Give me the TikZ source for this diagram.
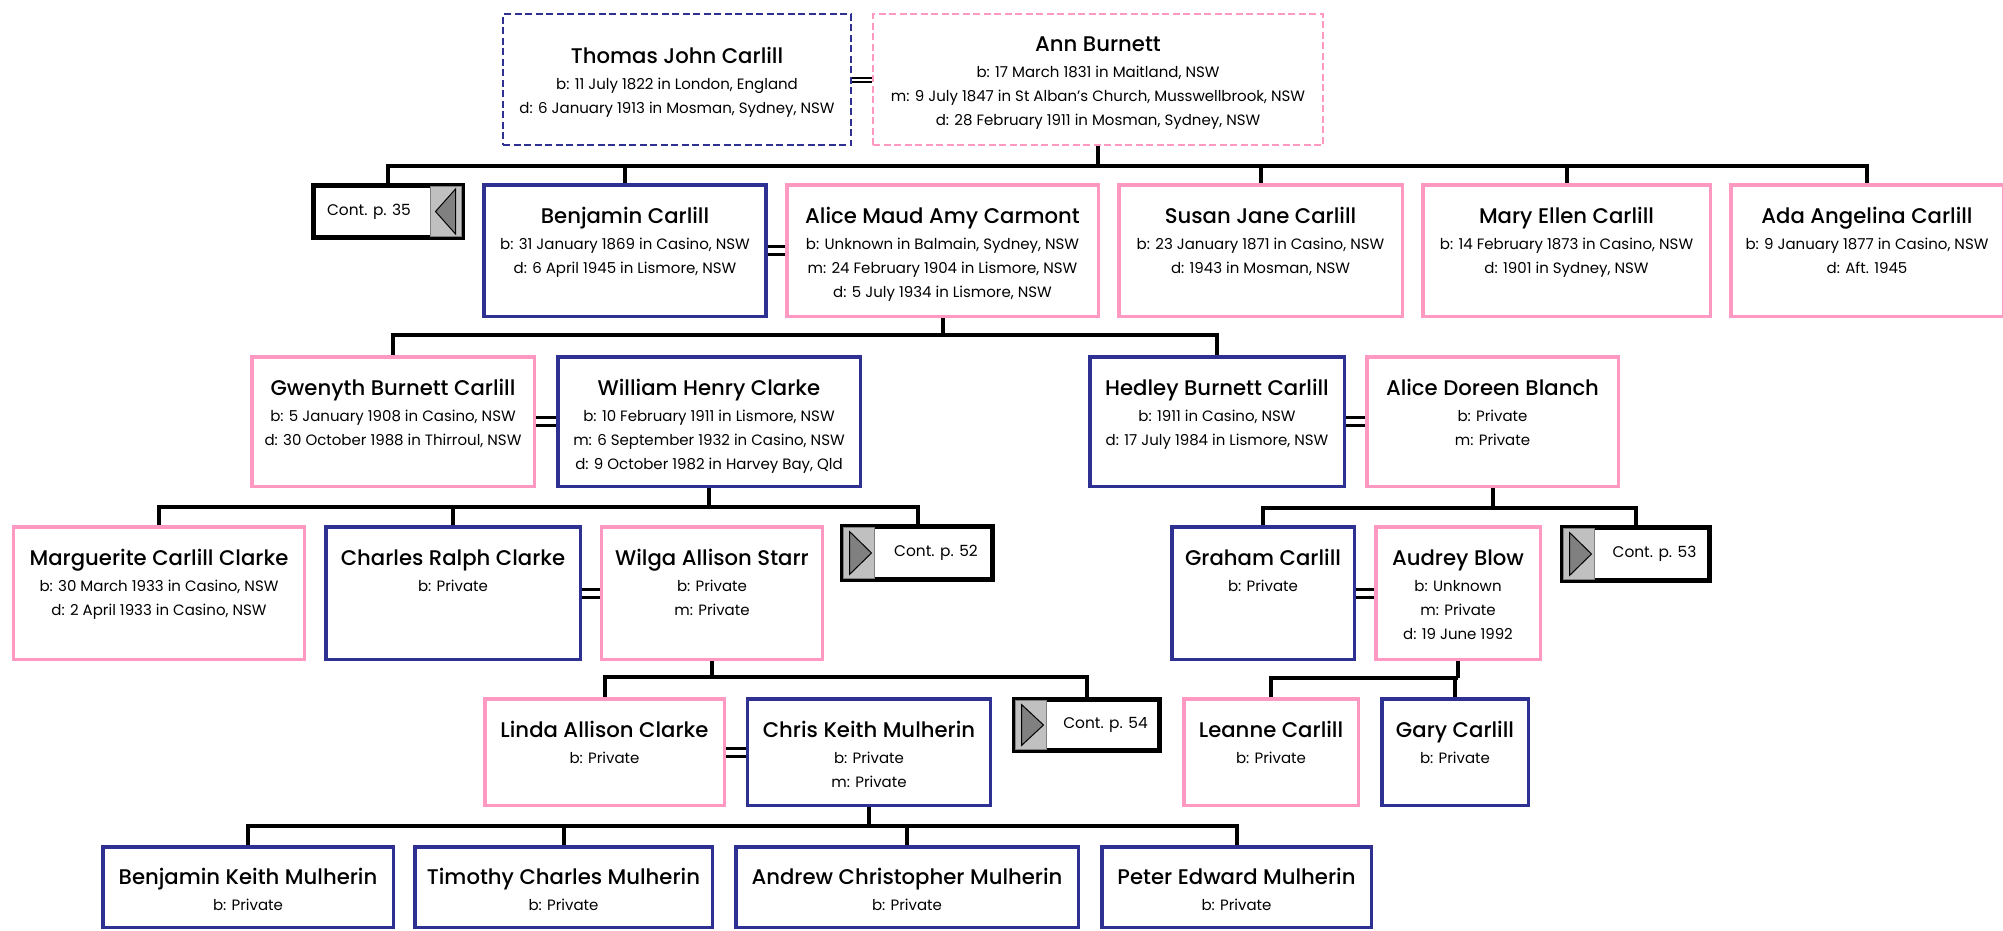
\documentclass[tikz,border=0pt]{standalone}
\usepackage{fontspec}
\setmainfont{Poppins}
\newfontfamily\namefam{Poppins}[UprightFont=* Medium]
\usetikzlibrary{calc}

\definecolor{navyb}{RGB}{46,49,146}
\definecolor{pinkb}{RGB}{255,153,194}
\definecolor{contgray}{RGB}{192,192,192}
\definecolor{arrowgray}{RGB}{128,128,128}

\newlength\pxu
\setlength\pxu{0.5pt}
\newcommand{\namefont}{\namefam\fontsize{10.6}{12}\selectfont}
\newcommand{\detfont}{\fontsize{7.5}{12}\selectfont}
\newcommand{\contfont}{\fontsize{7.7}{10}\selectfont}
% box of fixed size, text hung from the top
\newcommand{\pbox}[5][19.5pt]{\parbox[c][#3\pxu][t]{#2\pxu}{\detfont\centering\rule{0pt}{#1}{\namefont #4}\\[1pt]#5}}

\begin{document}
\begin{tikzpicture}[x=0.5pt,y=-0.5pt]
    \useasboundingbox (0,0) rectangle (2003,931);

    % generation 0
    \begin{scope}[every node/.style={rectangle,line width=1pt,dash pattern=on 3.5pt off 1.75pt,inner sep=0pt,fill=white}]
        \node (thomas) [draw=navyb] at (677,80) {\pbox[24.5pt]{348}{131}{Thomas John Carlill}{b: 11 July 1822 in London, England\\ d: 6 January 1913 in Mosman, Sydney, NSW}};
        \node (ann) [draw=pinkb] at (1098,80) {\pbox[18.5pt]{450}{131}{Ann Burnett}{b: 17 March 1831 in Maitland, NSW\\ m: 9 July 1847 in St Alban's Church, Musswellbrook, NSW\\ d: 28 February 1911 in Mosman, Sydney, NSW}};
    \end{scope}

    \begin{scope}[every node/.style={rectangle,line width=1.75pt,inner sep=0pt,fill=white}]
        % generation 1
        \node (ben) [draw=navyb] at (625,250.5) {\pbox{282}{131.5}{Benjamin Carlill}{b: 31 January 1869 in Casino, NSW\\ d: 6 April 1945 in Lismore, NSW}};
        \node (alice) [draw=pinkb] at (942.5,250.5) {\pbox{311.5}{131.5}{Alice Maud Amy Carmont}{b: Unknown in Balmain, Sydney, NSW\\ m: 24 February 1904 in Lismore, NSW\\ d: 5 July 1934 in Lismore, NSW}};
        \node (susan) [draw=pinkb] at (1260.5,250.5) {\pbox{283.5}{131.5}{Susan Jane Carlill}{b: 23 January 1871 in Casino, NSW\\ d: 1943 in Mosman, NSW}};
        \node (mary) [draw=pinkb] at (1566.5,250.5) {\pbox{287.5}{131.5}{Mary Ellen Carlill}{b: 14 February 1873 in Casino, NSW\\ d: 1901 in Sydney, NSW}};
        \node (ada) [draw=pinkb] at (1867,250.5) {\pbox{272.5}{131.5}{Ada Angelina Carlill}{b: 9 January 1877 in Casino, NSW\\ d: Aft. 1945}};
        % generation 2
        \node (gwen) [draw=pinkb] at (393,421.5) {\pbox{282.5}{129.5}{Gwenyth Burnett Carlill}{b: 5 January 1908 in Casino, NSW\\ d: 30 October 1988 in Thirroul, NSW}};
        \node (william) [draw=navyb] at (709,421.5) {\pbox{302.5}{129.5}{William Henry Clarke}{b: 10 February 1911 in Lismore, NSW\\ m: 6 September 1932 in Casino, NSW\\ d: 9 October 1982 in Harvey Bay, Qld}};
        \node (hedley) [draw=navyb] at (1217,421.5) {\pbox{254.5}{129.5}{Hedley Burnett Carlill}{b: 1911 in Casino, NSW\\ d: 17 July 1984 in Lismore, NSW}};
        \node (doreen) [draw=pinkb] at (1492.5,421.5) {\pbox{251.5}{129.5}{Alice Doreen Blanch}{b: Private\\ m: Private}};
        % generation 3
        \node (marg) [draw=pinkb] at (159,593) {\pbox{291}{132.5}{Marguerite Carlill Clarke}{b: 30 March 1933 in Casino, NSW\\ d: 2 April 1933 in Casino, NSW}};
        \node (charles) [draw=navyb] at (453,593) {\pbox{254.5}{132.5}{Charles Ralph Clarke}{b: Private}};
        \node (wilga) [draw=pinkb] at (712,593) {\pbox{221}{132.5}{Wilga Allison Starr}{b: Private\\ m: Private}};
        \node (graham) [draw=navyb] at (1263,593) {\pbox{182.5}{132.5}{Graham Carlill}{b: Private}};
        \node (audrey) [draw=pinkb] at (1458,593) {\pbox{164.5}{132.5}{Audrey Blow}{b: Unknown\\ m: Private\\ d: 19 June 1992}};
        % generation 4
        \node (linda) [draw=pinkb] at (604.5,752) {\pbox{239.5}{106.5}{Linda Allison Clarke}{b: Private}};
        \node (chris) [draw=navyb] at (869,752) {\pbox{243}{106.5}{Chris Keith Mulherin}{b: Private\\ m: Private}};
        \node (leanne) [draw=pinkb] at (1271,752) {\pbox{174.5}{106.5}{Leanne Carlill}{b: Private}};
        \node (gary) [draw=navyb] at (1455,752) {\pbox{146.5}{106.5}{Gary Carlill}{b: Private}};
        % generation 5
        \node (benk) [draw=navyb] at (248,887) {\pbox[18.75pt]{290.5}{80.5}{Benjamin Keith Mulherin}{b: Private}};
        \node (timothy) [draw=navyb] at (563.5,887) {\pbox[18.75pt]{297.5}{80.5}{Timothy Charles Mulherin}{b: Private}};
        \node (andrew) [draw=navyb] at (907,887) {\pbox[18.75pt]{342.5}{80.5}{Andrew Christopher Mulherin}{b: Private}};
        \node (peter) [draw=navyb] at (1236.5,887) {\pbox[18.75pt]{269.5}{80.5}{Peter Edward Mulherin}{b: Private}};
    \end{scope}

    % continuation boxes
    \begin{scope}[every node/.style={rectangle,draw=black,line width=2.5pt,inner sep=0pt,fill=white,font=\contfont}]
        \node (c35) [minimum width=74.5pt, minimum height=26pt] at (388,211.5) {Cont. p. 35\hspace*{19pt}};
        \node (c52) [minimum width=75pt, minimum height=26.5pt] at (917.5,553) {\hspace*{18.5pt}Cont. p. 52};
        \node (c53) [minimum width=73.5pt, minimum height=26.5pt] at (1636,554) {\hspace*{18.5pt}Cont. p. 53};
        \node (c54) [minimum width=72.5pt, minimum height=25.5pt] at (1087,725) {\hspace*{18.5pt}Cont. p. 54};
    \end{scope}
    \begin{scope}[line width=0.5pt]
        \filldraw[fill=contgray, draw=arrowgray] ([shift={(-1.75pt,-1.75pt)}]c35.north east) rectangle ([shift={(-17.25pt,1.75pt)}]c35.south east);
        \filldraw[fill=arrowgray, draw=black] ([shift={(-4.75pt,-3pt)}]c35.north east) -- ([shift={(-4.75pt,3pt)}]c35.south east) -- ([xshift=-14.75pt]c35.east) -- cycle;
        \filldraw[fill=contgray, draw=arrowgray] ([shift={(1.75pt,-1.75pt)}]c52.north west) rectangle ([shift={(17.25pt,1.75pt)}]c52.south west);
        \filldraw[fill=arrowgray, draw=black] ([shift={(4.75pt,-3.75pt)}]c52.north west) -- ([shift={(4.75pt,3.75pt)}]c52.south west) -- ([xshift=15.75pt]c52.west) -- cycle;
        \filldraw[fill=contgray, draw=arrowgray] ([shift={(1.75pt,-1.75pt)}]c53.north west) rectangle ([shift={(17.25pt,1.75pt)}]c53.south west);
        \filldraw[fill=arrowgray, draw=black] ([shift={(4.75pt,-3.75pt)}]c53.north west) -- ([shift={(4.75pt,3.75pt)}]c53.south west) -- ([xshift=15.75pt]c53.west) -- cycle;
        \filldraw[fill=contgray, draw=arrowgray] ([shift={(1.75pt,-1.75pt)}]c54.north west) rectangle ([shift={(17.25pt,1.75pt)}]c54.south west);
        \filldraw[fill=arrowgray, draw=black] ([shift={(4.75pt,-3.75pt)}]c54.north west) -- ([shift={(4.75pt,3.75pt)}]c54.south west) -- ([xshift=15.75pt]c54.west) -- cycle;
    \end{scope}

    % marriages
    \draw[line width=0.75pt] ([yshift=1pt]thomas.east) -- ([yshift=1pt]ann.west);
    \draw[line width=0.75pt] ([yshift=-1pt]thomas.east) -- ([yshift=-1pt]ann.west);
    \begin{scope}[line width=1.5pt]
        \draw ([yshift=2pt]ben.east) -- ([yshift=2pt]alice.west);
        \draw ([yshift=-2pt]ben.east) -- ([yshift=-2pt]alice.west);
        \draw ([yshift=2pt]gwen.east) -- ([yshift=2pt]william.west);
        \draw ([yshift=-2pt]gwen.east) -- ([yshift=-2pt]william.west);
        \draw ([yshift=2pt]hedley.east) -- ([yshift=2pt]doreen.west);
        \draw ([yshift=-2pt]hedley.east) -- ([yshift=-2pt]doreen.west);
        \draw ([yshift=2pt]charles.east) -- ([yshift=2pt]wilga.west);
        \draw ([yshift=-2pt]charles.east) -- ([yshift=-2pt]wilga.west);
        \draw ([yshift=2pt]graham.east) -- ([yshift=2pt]audrey.west);
        \draw ([yshift=-2pt]graham.east) -- ([yshift=-2pt]audrey.west);
        \draw ([yshift=2pt]linda.east) -- ([yshift=2pt]chris.west);
        \draw ([yshift=-2pt]linda.east) -- ([yshift=-2pt]chris.west);
    \end{scope}

    % descent lines
    \begin{scope}[line width=2pt]
        \coordinate (f1) at (1098,166);
        \coordinate (f2) at (942.5,335);
        \coordinate (f3) at (709,507);
        \coordinate (f4) at (1492.5,508);
        \coordinate (f5) at (712,677);
        \coordinate (f6) at (1458,678);
        \coordinate (f7) at (869,826);
        \draw (ann.south) -- (f1);
        \draw (f1) -| (c35.north);
        \draw (f1) -| (ben.north);
        \draw (f1) -| (susan.north);
        \draw (f1) -| (mary.north);
        \draw (f1) -| (ada.north);
        \draw (alice.south) -- (f2);
        \draw (f2) -| (gwen.north);
        \draw (f2) -| (hedley.north);
        \draw (william.south) -- (f3);
        \draw (f3) -| (marg.north);
        \draw (f3) -| (charles.north);
        \draw (f3) -| (c52.north);
        \draw (doreen.south) -- (f4);
        \draw (f4) -| (graham.north);
        \draw (f4) -| (c53.north);
        \draw (wilga.south) -- (f5);
        \draw (f5) -| (linda.north);
        \draw (f5) -| (c54.north);
        \draw (audrey.south) -- (f6);
        \draw (f6) -| (leanne.north);
        \draw (f6) -| (gary.north);
        \draw (chris.south) -- (f7);
        \draw (f7) -| (benk.north);
        \draw (f7) -| (timothy.north);
        \draw (f7) -| (andrew.north);
        \draw (f7) -| (peter.north);
    \end{scope}
\end{tikzpicture}
\end{document}
